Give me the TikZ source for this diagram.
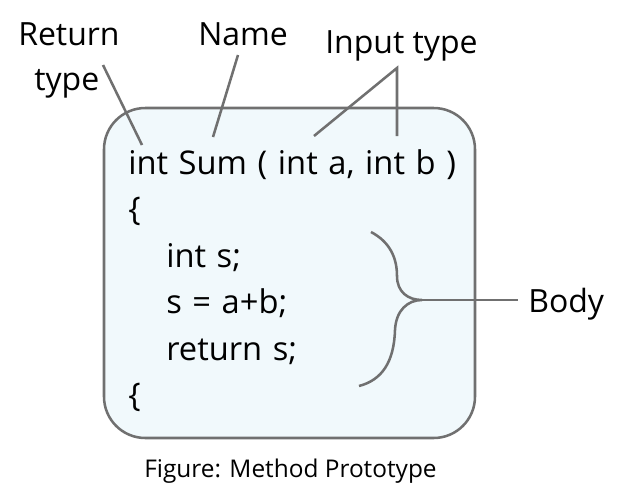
\documentclass[tikz,border=0pt]{standalone}
\usepackage{fontspec}
\setmainfont{Open Sans}
\newfontfamily\codefont[WordSpace=1.25]{Open Sans}
\usetikzlibrary{positioning}
\definecolor{boxfill}{HTML}{F1F9FC}
\definecolor{linegray}{HTML}{707070}

\begin{document}
\begin{tikzpicture}[x=0.75pt,y=-0.75pt,
		code/.style={anchor=base west,inner sep=0pt,font=\codefont\fontsize{24.5}{29}\selectfont},
		label/.style={anchor=base west,inner sep=0pt,font=\fontsize{24}{29}\selectfont},
		caption/.style={anchor=base west,inner sep=0pt,font=\fontsize{18.3}{22}\selectfont},
		pointer/.style={draw=linegray,line width=1.9pt}]
		\useasboundingbox (0,0) rectangle (622,493);

		% method box
		\draw [pointer,fill=boxfill,rounded corners=31pt] (104,108) rectangle (475,438);

		% code lines
		\node [code] (head) at (128,174) {int Sum ( int a, int b )};
		\node [code] (open) at (128,220) {\{};
		\node [code] (decl) at (166,267) {int s;};
		\node [code] (add) at (166,313) {s = a+b;};
		\node [code] (ret) at (166,360) {return s;};
		\node [code] (close) at (128,406) {\{};

		% labels
		\node [label] (rettop) at (18,45) {Return};
		\node [label] (retbot) at (34,90) {type};
		\node [label] (name) at (198,45) {Name};
		\node [label] (input) at (325,53) {Input type};
		\node [label] (body) at (528,312) {Body};
		\node [caption] (cap) at (144,477) {Figure: Method Prototype};

		% pointers
		\coordinate (retfrom) at (103,65);
		\coordinate (retto) at (142,145);
		\coordinate (namefrom) at (238,55);
		\coordinate (nameto) at (213,137);
		\coordinate (inapex) at (397,68);
		\coordinate (ina) at (314,136);
		\coordinate (inb) at (397,136);
		\draw [pointer] (retfrom) -- (retto);
		\draw [pointer] (namefrom) -- (nameto);
		\draw [pointer] (ina) -- (inapex) -- (inb);

		% body brace
		\coordinate (btop) at (371,232);
		\coordinate (btip) at (422,300);
		\coordinate (bbot) at (359,386);
		\draw [pointer] (btop) .. controls (390,242) and (397,258) .. (397,276)
			.. controls (397,292) and (408,300) .. (btip)
			.. controls (408,300) and (396,310) .. (395,330)
			.. controls (394,362) and (382,380) .. (bbot);
		\draw [pointer,shorten >=7.5pt] (btip) -- (btip -| body.west);
	\end{tikzpicture}
\end{document}
